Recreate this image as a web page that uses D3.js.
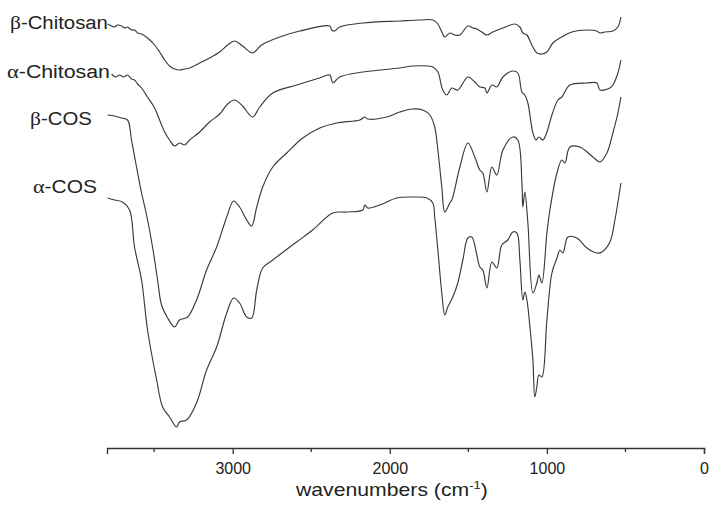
<!DOCTYPE html>
<html>
<head>
<meta charset="utf-8">
<script src="https://cdn.jsdelivr.net/npm/d3@7"></script>
<style>
  html, body { margin: 0; padding: 0; background: #fff; }
  svg { display: block; }
  text { font-family: "Liberation Sans", Arial, sans-serif; fill: #222; }
</style>
</head>
<body>
<svg id="chart" width="714" height="510"></svg>
<script>
// ---- data: [wavenumber (cm-1), transmittance (a.u., offset)] ----
const betaChitosan = [
  [3796,106],[3771,105.5],[3752,105.25],[3733,105.75],[3707,105.5],[3688,105],[3669,105.25],
  [3644,104.5],[3625,104.5],[3605,103.75],[3580,103.5],[3542,102.5],[3497,100.75],[3465,99],
  [3433,97],[3402,95.5],[3370,94.75],[3338,94.5],[3306,94.75],[3274,95],[3210,96.25],[3147,97.5],
  [3083,99],[3032,100.75],[2988,101.75],[2937,100.5],[2873,98.75],[2816,100.75],[2701,102.75],
  [2573,104.25],[2382,105.5],[2370,104.5],[2351,104.25],[2319,105.25],[2172,106.25],[1936,106.75],
  [1809,107],[1726,107],[1694,106],[1669,104],[1650,102.75],[1618,103.75],[1586,103.25],[1554,103.25],
  [1503,105.5],[1471,105],[1446,104.75],[1414,104],[1382,103.25],[1344,104],[1280,105],[1204,106],
  [1172,105.25],[1153,103.75],[1127,103.25],[1096,100.75],[1064,98.75],[1032,98.5],[1000,99],
  [962,101.25],[905,102.75],[841,104],[745,104.5],[682,104.25],[662,103.75],[631,104],[580,104.25],
  [548,105.25],[529,107.75]
];
const alphaChitosan = [
  [3771,93.5],[3746,92.75],[3720,93.25],[3695,92.75],[3669,93.25],[3644,92.25],[3625,92],[3605,91],
  [3580,90],[3542,87.75],[3497,85],[3465,82],[3433,79],[3402,77],[3370,75.5],[3338,76.25],[3306,75.75],
  [3274,77],[3210,79],[3147,81.5],[3083,83.5],[3032,86],[2988,87],[2937,85.5],[2873,82.75],[2828,85.25],
  [2745,88.75],[2593,90.75],[2446,92.5],[2382,93.25],[2363,91.25],[2319,92.75],[2172,94],[1936,95],
  [1854,95.5],[1726,95.25],[1694,94],[1663,89.5],[1637,88.25],[1605,90],[1567,89.5],[1503,92.75],
  [1459,91.5],[1427,90.25],[1395,90],[1382,88.75],[1350,90.75],[1319,90.25],[1280,92.75],[1217,94.25],
  [1185,93.75],[1159,89],[1140,88.25],[1121,86.25],[1089,78.75],[1070,77],[1051,77.75],[1026,77],
  [1000,79],[968,83.25],[930,87],[905,87.75],[854,90.75],[745,91.25],[682,91.25],[662,89.5],[599,90],
  [580,90.75],[548,93.75],[529,97]
];
const betaCOS = [
  [3796,83.25],[3752,83],[3707,82.5],[3669,82],[3644,77],[3612,70.25],[3580,63.75],[3548,58.25],
  [3510,50.25],[3478,42],[3453,35.75],[3414,32.5],[3370,30.25],[3338,32],[3287,32.75],[3230,37],
  [3166,44.5],[3102,50.25],[3038,57.75],[2994,61.75],[2956,60.25],[2911,57],[2879,55.5],[2847,60.25],
  [2809,65.25],[2745,70.25],[2656,73.75],[2554,77.5],[2446,80],[2338,81.25],[2191,82],[2159,82.75],
  [2140,82.25],[2019,82.75],[1936,84],[1854,84.75],[1790,84.5],[1745,83.25],[1714,80.25],[1694,74.5],
  [1669,65.25],[1650,59],[1618,61.25],[1605,62],[1554,70.25],[1503,76.25],[1459,72.75],[1427,69.5],
  [1408,68.75],[1382,64],[1350,70.25],[1319,68.25],[1280,74.5],[1217,77.75],[1185,77],[1159,66.25],
  [1153,60.25],[1140,64],[1121,56.25],[1089,38.75],[1064,41.25],[1051,43.25],[1032,41.25],[1000,53.75],
  [981,59.5],[936,68.75],[905,72],[885,71.25],[854,75.25],[790,75.25],[707,72.75],[662,71.5],[618,73.75],
  [580,78.75],[548,83.75],[529,87.75]
];
const alphaCOS = [
  [3796,62.5],[3752,62],[3701,61.5],[3656,59.5],[3625,50.25],[3580,42],[3542,29.5],[3484,17],
  [3446,10.25],[3402,7.75],[3357,5.25],[3338,6.5],[3293,7],[3230,11.25],[3166,19.5],[3102,25.25],
  [3038,33.75],[2994,37.5],[2956,36.25],[2911,32.75],[2879,32.5],[2847,39.5],[2809,45],[2745,47],
  [2593,51.5],[2491,54.5],[2363,58.75],[2274,59],[2172,59.5],[2159,60.75],[2140,60],[2064,60.75],
  [1956,62.5],[1854,62.75],[1764,62.5],[1726,61.25],[1714,57.75],[1694,49.5],[1669,38.75],[1650,33.25],
  [1631,35.25],[1599,37.75],[1567,41.25],[1535,47],[1503,52.5],[1478,52.75],[1446,48.25],[1427,45.25],
  [1408,44.5],[1382,40],[1350,46.5],[1319,45],[1287,50.75],[1249,52],[1217,54],[1191,53.75],[1172,47],
  [1153,37],[1140,39],[1127,37],[1108,30.25],[1089,22],[1077,12.75],[1064,15.25],[1051,18.25],
  [1032,17.75],[1000,32],[968,43.75],[936,47.5],[917,49.5],[898,48.75],[866,52.75],[809,52.5],[745,50],
  [682,48.75],[650,49],[599,51.5],[567,57],[529,66.25]
];
const seriesNames = ["β-Chitosan", "α-Chitosan", "β-COS", "α-COS"];
const seriesData = [betaChitosan, alphaChitosan, betaCOS, alphaCOS];
const majorTicks = [3000, 2000, 1000, 0];
const minorTicks = [3500, 2500, 1500, 500];
const xLabel = "wavenumbers (cm";

// ---- layout ----
const svg = d3.select("#chart");
const axisY = 448;
const x = d3.scaleLinear().domain([3800, 0]).range([107, 704]);
const y = d3.scaleLinear().domain([0, 112]).range([448, 0]);

const line = d3.line().x(d => x(d[0])).y(d => y(d[1]))
  .curve(d3.curveCatmullRom.alpha(0.5));

svg.append("g").selectAll("path")
  .data(seriesData)
  .join("path")
  .attr("d", line)
  .attr("fill", "none")
  .attr("stroke", "#3a3a3a")
  .attr("stroke-width", 1.15)
  .attr("stroke-linejoin", "round");

// x axis
const gx = svg.append("g").attr("transform", `translate(0,${axisY})`);
gx.call(d3.axisBottom(x).tickValues(majorTicks).tickSize(6).tickPadding(9)
  .tickFormat(d3.format("d")));
gx.select(".domain").attr("stroke", "#333").attr("stroke-width", 1.4);
gx.selectAll(".tick line").attr("stroke", "#333").attr("stroke-width", 1.3);
gx.selectAll(".tick text").attr("font-size", 16).attr("fill", "#222")
  .attr("font-family", "Liberation Sans, Arial, sans-serif");
const gm = svg.append("g").attr("transform", `translate(0,${axisY})`);
gm.selectAll("line").data(minorTicks).join("line")
  .attr("x1", d => x(d)).attr("x2", d => x(d))
  .attr("y1", 0).attr("y2", 4)
  .attr("stroke", "#333").attr("stroke-width", 1.3);

// fit a text element horizontally to a target width
function fitText(sel, left, baseline, width) {
  const w = sel.node().getComputedTextLength();
  const s = width / w;
  sel.attr("transform", `translate(${left},${baseline}) scale(${s},1)`);
}

// axis title
const xt = svg.append("text").attr("font-size", 18).attr("x", 0).attr("y", 0);
xt.append("tspan").text(xLabel);
xt.append("tspan").attr("font-size", 11).attr("dy", -7).text("-1");
xt.append("tspan").attr("dy", 7).text(")");
fitText(xt, 296, 496, 192);

// series labels
const labelPos = [
  {left: 10, base: 29, w: 98},
  {left: 7, base: 78, w: 103},
  {left: 30, base: 125, w: 62},
  {left: 33, base: 193, w: 64}
];
seriesNames.forEach((name, i) => {
  const t = svg.append("text").attr("font-size", 18).attr("x", 0).attr("y", 0);
  t.append("tspan").attr("font-family", "Liberation Serif, Times New Roman, serif")
    .attr("font-size", 19).text(name.charAt(0));
  t.append("tspan").text(name.slice(1));
  fitText(t, labelPos[i].left, labelPos[i].base, labelPos[i].w);
});
</script>
</body>
</html>
